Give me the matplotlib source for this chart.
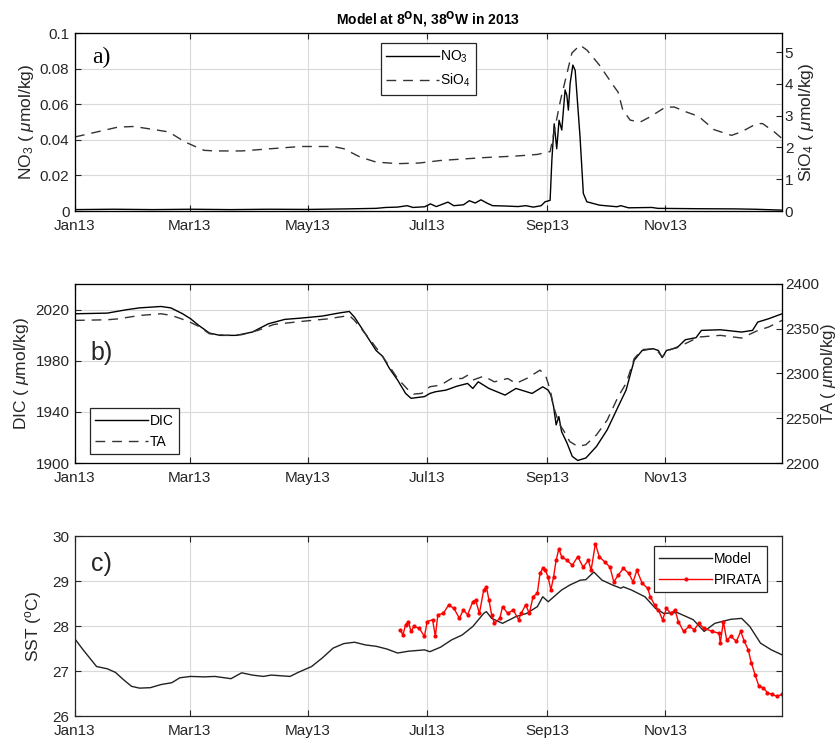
import numpy as np
import matplotlib
matplotlib.use("Agg")
import matplotlib.pyplot as plt
import matplotlib.dates as mdates
from datetime import datetime

plt.rcParams['font.family'] = ['Liberation Sans', 'DejaVu Sans']
plt.rcParams['mathtext.fontset'] = 'custom'
plt.rcParams['mathtext.rm'] = 'Liberation Sans'
plt.rcParams['mathtext.it'] = 'Liberation Sans:italic'

# ---- data (day of year 2013, value) ----
sio4_day = [0, 22.1, 30.4, 47.1, 49.8, 56.7, 66.4, 72.0, 85.8, 105.2, 116.3, 132.9, 138.4,
            146.7, 155.0, 166.1, 177.2, 188.2, 210.4, 227.0, 238.0, 244.6, 250, 255.8, 260,
            263.6, 270, 277, 279.6, 282, 285.8, 291, 296, 304, 308.6, 315, 321, 329, 338,
            343, 351, 354, 360, 364]
sio4_val = [2.33, 2.64, 2.66, 2.50, 2.43, 2.17, 1.91, 1.89, 1.89, 1.98, 2.03, 2.03, 1.96,
            1.70, 1.54, 1.49, 1.51, 1.59, 1.68, 1.73, 1.78, 1.87, 3.5, 4.97, 5.22,
            5.06, 4.59, 3.96, 3.74, 3.18, 2.86, 2.80, 2.96, 3.27, 3.27, 3.11, 2.98, 2.56, 2.38,
            2.49, 2.75, 2.75, 2.49, 2.28]

no3_day = [0, 20, 40, 60, 80, 100, 120, 140, 155, 160, 166, 171, 174, 180, 183, 186, 192,
           195, 200, 203, 206, 209, 212, 215, 222, 228, 232, 236, 240, 242, 244.6, 245.5,
           246.7, 248, 249.2, 250.6, 252.3, 253.2, 254, 254.9, 256.3, 257.5, 260, 261.7,
           263.5, 270, 279, 281, 285, 297, 300, 320, 340, 350, 364]
no3_val = [0.0008, 0.0010, 0.0008, 0.0010, 0.0008, 0.0010, 0.0009, 0.0012, 0.0015, 0.0020,
           0.0022, 0.0030, 0.0020, 0.0024, 0.0040, 0.0025, 0.0050, 0.0030, 0.0035, 0.0058,
           0.0045, 0.0063, 0.0045, 0.0030, 0.0028, 0.0025, 0.0030, 0.0022, 0.0030, 0.0052,
           0.0060, 0.0287, 0.0490, 0.0350, 0.0510, 0.0455, 0.0680, 0.0650, 0.0567, 0.0717,
           0.0820, 0.0790, 0.0417, 0.0099, 0.0052, 0.0033, 0.0024, 0.0030, 0.0018, 0.0020,
           0.0015, 0.0013, 0.0012, 0.0010, 0.0005]

dic_day = [0, 16.6, 26.3, 33.2, 44.3, 49.3, 55.4, 59.5, 63.7, 69.2, 74.7, 83.0, 91.3, 99.6,
           108.0, 116.3, 127.3, 135.6, 141.2, 143.9, 149.5, 155.0, 158.3, 161.9, 166.1, 170.2,
           173.0, 179.9, 182.7, 185.5, 191.0, 196.5, 202.1, 204.8, 207.6, 213.1, 221.4, 227.0,
           235.3, 240.8, 243.6, 245.0, 246.4, 247.7, 249.1, 250.5, 253.3, 256.0, 258.8, 263.0,
           268.5, 274.0, 279.6, 283.7, 287.9, 292.0, 297.6, 300.3, 302.3, 304.5, 310.0, 314.2,
           319.7, 322.5, 332.2, 343.2, 348.8, 351.5, 357.1, 364]
dic_val = [2016.7, 2017.2, 2019.8, 2021.3, 2022.4, 2021.3, 2016.7, 2012.8, 2007.6, 2001.6,
           1999.8, 1999.8, 2002.4, 2008.9, 2012.3, 2013.3, 2014.9, 2017.2, 2018.5, 2014.0,
           2001.0, 1988.0, 1983.5, 1973.9, 1964.8, 1954.4, 1950.6, 1951.9, 1954.4, 1955.7,
           1957.0, 1960.0, 1962.2, 1958.3, 1963.5, 1958.3, 1953.1, 1958.3, 1954.4, 1959.6,
           1957.0, 1953.1, 1944.0, 1929.8, 1936.3, 1924.6, 1915.6, 1905.2, 1902.0, 1903.9,
           1913.0, 1926.0, 1944.0, 1957.0, 1980.4, 1988.0, 1989.4, 1988.0, 1982.4, 1988.0,
           1990.2, 1996.4, 1998.0, 2003.7, 2004.2, 2002.4, 2003.7, 2010.2, 2012.8, 2016.7]

ta_day = [0, 16.6, 22.1, 33.2, 44.3, 49.8, 58.1, 63.7, 69.2, 77.5, 85.8, 94.1, 102.4, 116.3,
          130.1, 141.2, 143.9, 152.2, 158.3, 166.1, 171.6, 174.4, 178.5, 182.7, 188.2, 193.8,
          199.3, 202.1, 204.8, 210.4, 215.9, 222.8, 227.0, 232.5, 239.4, 242.2, 243.6, 245.0,
          246.4, 249.1, 251.9, 254.7, 258.8, 263.0, 268.5, 274.0, 279.6, 283.7, 287.9, 292.0,
          298.9, 302.3, 305.9, 314.2, 321.1, 332.2, 343.2, 351.5, 357.1, 364]
ta_val = [2359.3, 2360.0, 2361.0, 2364.8, 2366.7, 2364.8, 2358.5, 2352.6, 2344.4, 2342.6,
          2343.3, 2348.1, 2354.8, 2358.1, 2361.0, 2364.8, 2359.3, 2337.0, 2319.3, 2294.4,
          2281.5, 2277.0, 2277.8, 2285.2, 2287.0, 2294.4, 2294.4, 2298.0, 2292.6, 2297.0,
          2290.7, 2294.4, 2288.9, 2294.4, 2303.7, 2298.0, 2288.9, 2277.8, 2263.0, 2244.4,
          2235.0, 2224.0, 2218.5, 2220.4, 2231.5, 2248.0, 2274.0, 2288.9, 2316.7, 2326.7,
          2327.8, 2318.5, 2326.0, 2333.3, 2340.7, 2342.6, 2339.6, 2348.0, 2351.9, 2359.3]

model_day = [0, 4.2, 8.3, 11.1, 16.6, 20.8, 24.9, 29.1, 33.2, 38.8, 44.3, 49.8, 54.0, 59.5,
             66.4, 72.0, 80.3, 85.8, 91.3, 96.9, 101.0, 110.7, 114.9, 121.8, 127.3, 132.9,
             138.4, 143.9, 149.5, 155.0, 160.5, 166.1, 171.6, 179.9, 182.7, 188.2, 193.8,
             199.3, 204.8, 210.4, 211.8, 214.5, 220.1, 227.0, 232.5, 238.0, 240.8, 243.6,
             250.5, 254.7, 260.2, 263.0, 267.1, 271.3, 276.8, 281.0, 282.3, 286.5, 293.4,
             298.9, 303.1, 310.0, 318.3, 323.9, 329.4, 337.7, 343.2, 347.4, 352.9, 358.5, 364]
model_val = [27.71, 27.47, 27.25, 27.10, 27.05, 26.97, 26.81, 26.66, 26.62, 26.63, 26.70,
             26.74, 26.85, 26.88, 26.87, 26.88, 26.83, 26.96, 26.91, 26.88, 26.91, 26.88,
             26.97, 27.10, 27.29, 27.51, 27.61, 27.64, 27.58, 27.55, 27.49, 27.40, 27.44,
             27.47, 27.43, 27.53, 27.69, 27.80, 27.99, 28.28, 28.32, 28.17, 28.06, 28.21,
             28.28, 28.43, 28.65, 28.54, 28.80, 28.91, 29.02, 29.03, 29.20, 29.02, 28.91,
             28.84, 28.87, 28.80, 28.65, 28.39, 28.28, 28.30, 28.14, 27.88, 28.06, 28.15,
             28.17, 27.99, 27.62, 27.47, 27.36]

pirata_day = [167.5, 168.8, 170.2, 171.6, 173.0, 174.4, 177.2, 179.9, 181.3, 184.1, 185.5,
              186.8, 189.6, 192.4, 195.1, 197.9, 199.9, 202.1, 204.8, 206.2, 208.2, 210.4,
              211.8, 213.1, 214.5, 215.9, 218.7, 220.1, 222.8, 225.6, 228.4, 229.7, 232.0,
              233.9, 235.8, 238.0, 239.4, 240.8, 242.2, 243.6, 245.0, 246.4, 247.7, 249.1,
              250.5, 253.3, 256.0, 258.8, 261.6, 264.3, 265.7, 267.9, 269.9, 272.6, 275.4,
              277.4, 279.6, 282.3, 285.1, 287.3, 289.3, 292.0, 294.8, 296.2, 298.4, 300.3,
              302.5, 304.5, 306.7, 308.9, 310.6, 313.3, 316.1, 318.9, 321.1, 323.9, 328.0,
              331.6, 332.2, 333.8, 335.5, 337.7, 340.5, 342.7, 344.6, 346.6, 348.2, 350.1,
              352.1, 354.3, 356.5, 358.7, 361.2, 364.0]
pirata_val = [27.92, 27.80, 28.03, 28.10, 27.88, 27.99, 27.95, 27.77, 28.10, 28.14, 27.77,
              28.25, 28.28, 28.47, 28.39, 28.17, 28.36, 28.25, 28.54, 28.58, 28.28, 28.80,
              28.87, 28.58, 28.25, 28.06, 28.17, 28.43, 28.28, 28.36, 28.14, 28.28, 28.47,
              28.28, 28.65, 28.73, 29.17, 29.28, 29.24, 29.08, 28.80, 29.10, 29.46, 29.72,
              29.54, 29.46, 29.35, 29.54, 29.31, 29.46, 29.24, 29.83, 29.54, 29.43, 29.31,
              28.98, 29.13, 29.28, 29.17, 28.98, 29.24, 28.95, 28.84, 28.65, 28.47, 28.36,
              28.14, 28.39, 28.28, 28.36, 28.10, 27.88, 27.99, 27.92, 28.06, 27.95, 27.88,
              27.84, 27.62, 28.10, 27.69, 27.77, 27.66, 27.88, 27.66, 27.47, 27.18, 26.92,
              26.66, 26.63, 26.52, 26.48, 26.44, 26.48]

month_ticks = ['2013-01-01', '2013-03-01', '2013-05-01', '2013-07-01', '2013-09-01', '2013-11-01']

t0 = mdates.date2num(datetime(2013, 1, 1))


def to_date(days):
    return t0 + np.asarray(days, dtype=float)


TXT = '#262626'
GRID = '#d9d9d9'
DASH = (7, 5)
LBL = 12.5

fig = plt.figure(figsize=(8.4, 7.42), dpi=100)
L, W = 0.0893, 0.8417
axa = fig.add_axes([L, 0.7156, W, 0.2399])
axb = fig.add_axes([L, 0.3760, W, 0.2413])
axc = fig.add_axes([L, 0.0350, W, 0.2426])


def style(ax):
    ax.set_xlim(t0, t0 + 364)
    ax.set_xticks([mdates.datestr2num(d) for d in month_ticks])
    ax.xaxis.set_major_formatter(mdates.DateFormatter('%b%y'))
    ax.tick_params(direction='in', length=4, width=0.8, colors=TXT, labelsize=11,
                   top=True, pad=4)
    ax.tick_params(axis='x', pad=6)
    for s in ax.spines.values():
        s.set_color(TXT)
        s.set_linewidth(0.9)


def right_style(ax):
    ax.tick_params(direction='in', length=4, width=0.8, colors=TXT, labelsize=11, pad=2)


# --- a) NO3 / SiO4 ---
style(axa)
axa.grid(True, color=GRID, lw=0.8)
axa.set_axisbelow(True)
axa.set_ylim(0, 0.1)
axa.set_yticks([0, 0.02, 0.04, 0.06, 0.08, 0.1])
axa.set_yticklabels(['0', '0.02', '0.04', '0.06', '0.08', '0.1'])
l1, = axa.plot(to_date(no3_day), no3_val, color='k', lw=1.0, label='NO$_3$')
axa.set_ylabel('NO$_3$ ( $\\mu$mol/kg)', fontsize=LBL, color=TXT, labelpad=3)
axa2 = axa.twinx()
axa2.set_ylim(0, 5.6)
axa2.set_yticks([0, 1, 2, 3, 4, 5])
right_style(axa2)
l2, = axa2.plot(to_date(sio4_day), sio4_val, color='#333333', lw=1.0, dashes=DASH, label='SiO$_4$')
axa2.set_ylabel('SiO$_4$ ( $\\mu$mol/kg)', fontsize=LBL, color=TXT, labelpad=3)
leg = axa2.legend(handles=[l1, l2], loc='upper center', bbox_to_anchor=(0.5, 0.945),
                  fontsize=10, handlelength=3.8, fancybox=False, framealpha=1,
                  edgecolor=TXT, borderaxespad=0, handletextpad=0.1, borderpad=0.4)
leg.get_frame().set_linewidth(0.9)
axa.text(0.024, 0.86, 'a)', transform=axa.transAxes, fontsize=17, family='Liberation Serif',
         va='center', ha='left', color='k')
axa.set_title('Model at 8$^{\\mathbf{O}}$N, 38$^{\\mathbf{O}}$W in 2013', fontsize=10,
              fontweight='bold', color='k', pad=6)

# --- b) DIC / TA ---
style(axb)
axb.grid(True, color=GRID, lw=0.8)
axb.set_axisbelow(True)
axb.set_ylim(1900, 2040)
axb.set_yticks([1900, 1940, 1980, 2020])
l3, = axb.plot(to_date(dic_day), dic_val, color='k', lw=1.0, label='DIC')
axb.set_ylabel('DIC ( $\\mu$mol/kg)', fontsize=LBL, color=TXT, labelpad=3)
axb2 = axb.twinx()
axb2.set_ylim(2200, 2400)
axb2.set_yticks([2200, 2250, 2300, 2350, 2400])
right_style(axb2)
l4, = axb2.plot(to_date(ta_day), ta_val, color='#333333', lw=1.0, dashes=DASH, label='TA')
axb2.set_ylabel('TA ( $\\mu$mol/kg)', fontsize=12, color=TXT, labelpad=0)
leg = axb2.legend(handles=[l3, l4], loc='lower left', bbox_to_anchor=(0.021, 0.05),
                  fontsize=10, handlelength=3.8, fancybox=False, framealpha=1,
                  edgecolor=TXT, borderaxespad=0, handletextpad=0.1, borderpad=0.4)
leg.get_frame().set_linewidth(0.9)
axb.text(0.022, 0.615, 'b)', transform=axb.transAxes, fontsize=18, va='center', ha='left',
         color=TXT)

# --- c) SST ---
style(axc)
axc.grid(True, color=GRID, lw=0.8)
axc.set_axisbelow(True)
axc.set_ylim(26, 30)
axc.set_yticks([26, 27, 28, 29, 30])
axc.tick_params(right=True)
axc.plot(to_date(model_day), model_val, color='#222222', lw=1.0, label='Model')
axc.plot(to_date(pirata_day), pirata_val, color='red', lw=1.0, marker='.', ms=4,
         label='PIRATA')
axc.set_ylabel('SST ($^{\\rm o}$C)', fontsize=LBL, color=TXT, labelpad=6)
leg = axc.legend(loc='upper right', bbox_to_anchor=(0.979, 0.944), fontsize=10,
                 handlelength=3.8, fancybox=False, framealpha=1, edgecolor=TXT,
                 borderaxespad=0, handletextpad=0.1, borderpad=0.4)
leg.get_frame().set_linewidth(0.9)
axc.text(0.022, 0.845, 'c)', transform=axc.transAxes, fontsize=18, va='center', ha='left',
         color=TXT)

fig.savefig('out.png', dpi=100)
